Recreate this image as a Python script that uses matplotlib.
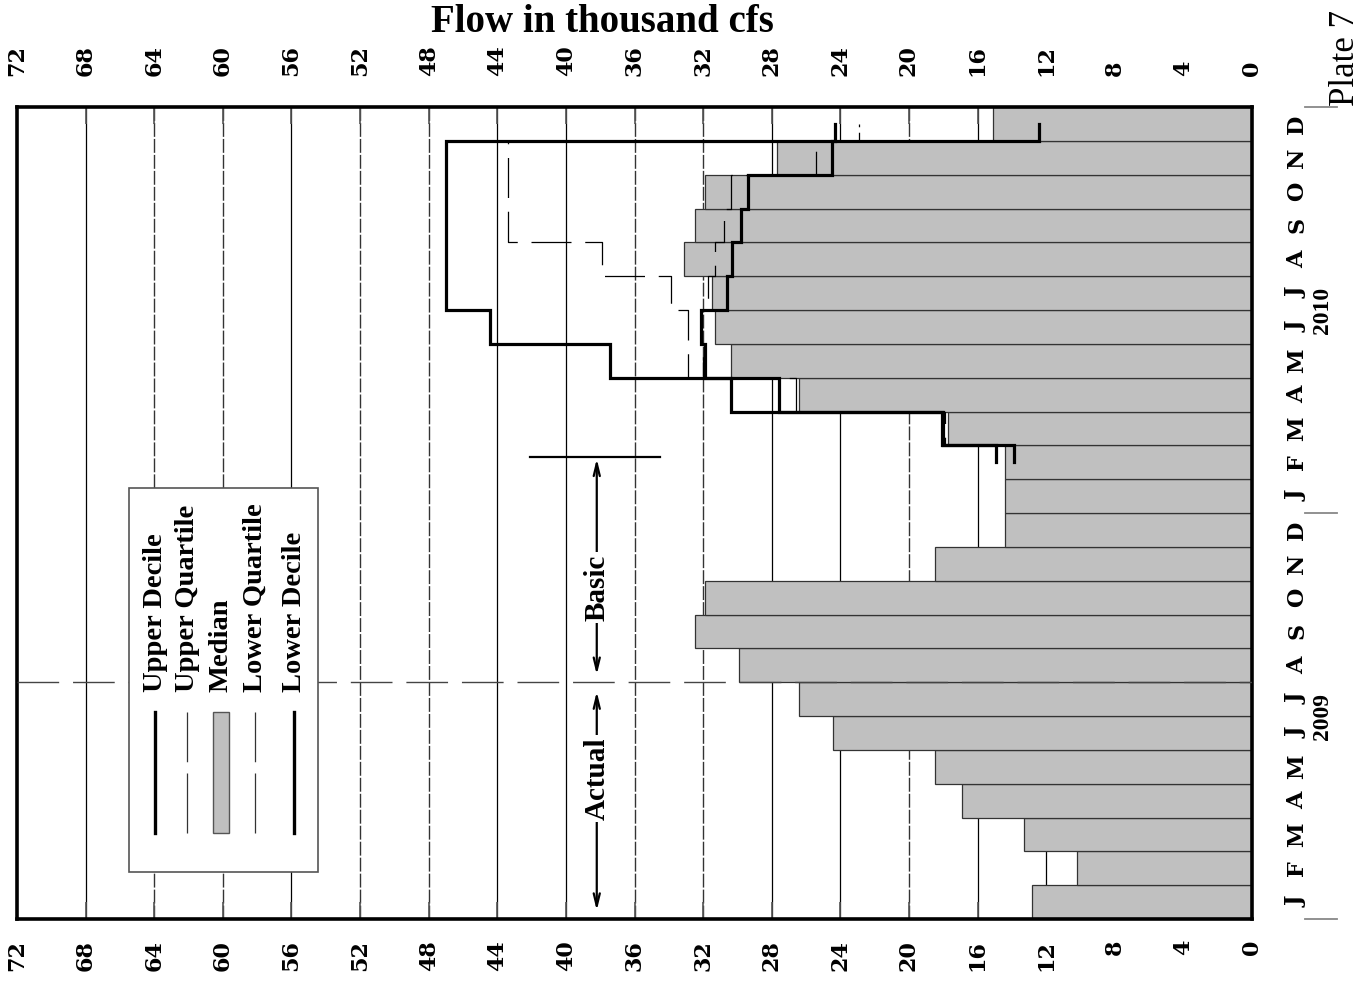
import matplotlib
matplotlib.use("Agg")
import matplotlib.pyplot as plt
import matplotlib.transforms as mtransforms
from matplotlib.patches import Rectangle
import numpy as np

# ---- data -------------------------------------------------------------
month_letters = list("JFMAMJJASOND") * 2          # Jan 2009 .. Dec 2010
years = ["2009", "2010"]
flow_ticks = list(range(0, 73, 4))

# median (actual Jan-Jul 2009, basic forecast afterwards), thousand cfs
median_flow = [12.8, 10.2, 13.3, 16.9, 18.5, 24.4, 26.4, 29.9, 32.5, 31.9, 18.5, 14.4,
               14.4, 14.4, 17.7, 26.4, 30.4, 31.3, 31.5, 33.1, 32.5, 31.9, 27.7, 15.1]

# probabilistic forecast, Feb 2010 .. Dec 2010
forecast_months = list(range(13, 24))
upper_decile = [14.9, 18.1, 30.4, 37.4, 44.4, 47.0, 47.0, 47.0, 47.0, 47.0, 24.3]
upper_quartile = [14.9, 18.1, 27.6, 32.9, 32.9, 33.9, 37.9, 43.4, 43.4, 43.4, 22.9]
lower_quartile = [13.9, 17.9, 26.6, 32.0, 32.1, 31.7, 31.3, 30.8, 30.4, 25.4, 22.9]
lower_decile = [13.9, 18.0, 27.6, 31.9, 32.1, 30.6, 30.3, 29.8, 29.4, 24.5, 12.4]

legend_labels = ["Upper Decile", "Upper Quartile", "Median", "Lower Quartile", "Lower Decile"]

dashed_grid = [64, 60, 52, 48, 36, 32, 20]

NUM_FONT = dict(family="DejaVu Serif", weight="bold", size=16)
TXT_FONT = "Liberation Serif"

BAR_COLOR = "#c0c0c0"


def step_mid(months, values):
    # vertical step line: starts mid first month, ends mid last month
    xs, ys = [], []
    n = len(values)
    for i, (m, v) in enumerate(zip(months, values)):
        lo = m if i == 0 else m - 0.5
        hi = m if i == n - 1 else m + 0.5
        xs += [v, v]
        ys += [lo, hi]
    return xs, ys


W, H = 1364, 986
fig = plt.figure(figsize=(W / 100, H / 100), dpi=100)
ax = fig.add_axes([17 / W, (H - 919) / H, (1252 - 17) / W, (919 - 107) / H])

# grid
for v in range(4, 72, 4):
    if v in dashed_grid:
        ax.axvline(v, color="#333333", lw=1.0, ls=(0, (10, 1.5)), zorder=1)
    else:
        ax.axvline(v, color="black", lw=0.9, zorder=1)

# median bars
ax.barh(range(24), median_flow, height=1.0, color=BAR_COLOR,
        edgecolor="#333333", linewidth=0.9, zorder=2)

# actual / basic divider
ax.axhline(6.5, color="#444444", lw=1.0, ls=(0, (30, 10)), zorder=3)

# forecast lines
for vals, lw, ls in [(upper_quartile, 0.9, (0, (32, 11))),
                     (lower_quartile, 0.9, (0, (32, 11))),
                     (upper_decile, 2.3, "-"),
                     (lower_decile, 2.3, "-")]:
    xs, ys = step_mid(forecast_months, vals)
    ax.plot(xs, ys, color="black", lw=lw, ls=ls, zorder=4,
            solid_joinstyle="miter")

ax.set_xlim(72, 0)
ax.set_ylim(-0.5, 23.5)

for s in ax.spines.values():
    s.set_linewidth(2.6)

# bottom labels + inner ticks
ax.set_xticks(flow_ticks, labels=[str(t) for t in flow_ticks], rotation=90, **NUM_FONT)
ax.tick_params(axis="x", direction="in", top=True, bottom=True, length=12,
               width=1.2, color="#555555", pad=15, labeltop=False)

# top labels
sec = ax.secondary_xaxis("top")
sec.set_xticks(flow_ticks, labels=[str(t) for t in flow_ticks], rotation=90, **NUM_FONT)
sec.tick_params(length=0, pad=22)
sec.spines["top"].set_visible(False)

# month letters on the right
ax.set_yticks(range(24), labels=month_letters, rotation=90, va="center", **NUM_FONT)
ax.tick_params(axis="y", left=False, right=False, labelleft=False,
               labelright=True, pad=21)

blend = mtransforms.blended_transform_factory(ax.transAxes, ax.transData)
for i, yr in enumerate(years):
    ax.text(1.057, 5.5 + 12 * i, yr, transform=blend, rotation=90,
            ha="center", va="center", family=TXT_FONT, weight="bold", size=17)
for y in (-0.5, 11.5, 23.5):
    ax.plot([1.043, 1.069], [y, y], transform=blend, color="#888888",
            lw=1.3, clip_on=False)

# actual / basic arrows
arrow_x = 38.2
arr = dict(arrowstyle="<->,head_length=0.9,head_width=0.22", color="black", lw=1.6,
           shrinkA=0, shrinkB=0)
ax.annotate("", xy=(arrow_x, -0.25), xytext=(arrow_x, 6.22), arrowprops=arr, zorder=6)
ax.annotate("", xy=(arrow_x, 6.72), xytext=(arrow_x, 13.1), arrowprops=arr, zorder=6)
ax.plot([42.1, 34.5], [13.16, 13.16], color="black", lw=1.6, zorder=6)
for lab, yc in [("Actual", 3.65), ("Basic", 9.3)]:
    ax.text(arrow_x, yc, lab, rotation=90, ha="center", va="center",
            family=TXT_FONT, weight="bold", size=21, zorder=7,
            bbox=dict(facecolor="white", edgecolor="none", pad=1.5))

# legend box
ax.add_patch(Rectangle((0.0907, 0.0579), 0.153, 0.4729, transform=ax.transAxes,
                       facecolor="white", edgecolor="#555555", lw=1.2, zorder=8))
leg_x = [0.1120, 0.1380, 0.1648, 0.1925, 0.2245]
y_top, y_bot = 0.2549, 0.1059
for i, (lab, lx) in enumerate(zip(legend_labels, leg_x)):
    ax.text(lx, 0.279, lab, transform=ax.transAxes, rotation=90,
            rotation_mode="anchor", ha="left", va="center",
            family=TXT_FONT, weight="bold", size=20.5, zorder=9)
    if lab == "Median":
        ax.add_patch(Rectangle((lx - 0.0065, y_bot), 0.013, y_top - y_bot,
                               transform=ax.transAxes, facecolor=BAR_COLOR,
                               edgecolor="#555555", lw=1, zorder=9))
    elif "Decile" in lab:
        ax.plot([lx, lx], [y_bot, y_top], transform=ax.transAxes,
                color="black", lw=2.4, zorder=9)
    else:
        ax.plot([lx, lx], [y_bot, y_top], transform=ax.transAxes,
                color="#333333", lw=0.9, ls=(0, (48, 9)), zorder=9)

# titles
fig.text(602 / W, 1 - 22 / H, "Flow in thousand cfs", ha="center", va="center",
         family=TXT_FONT, weight="bold", size=28)
fig.text(1362 / W, 1 - 106 / H, "Plate 7", rotation=90, rotation_mode="anchor",
         ha="left", va="bottom", family=TXT_FONT, size=25)

fig.savefig("out.png", dpi=100)
